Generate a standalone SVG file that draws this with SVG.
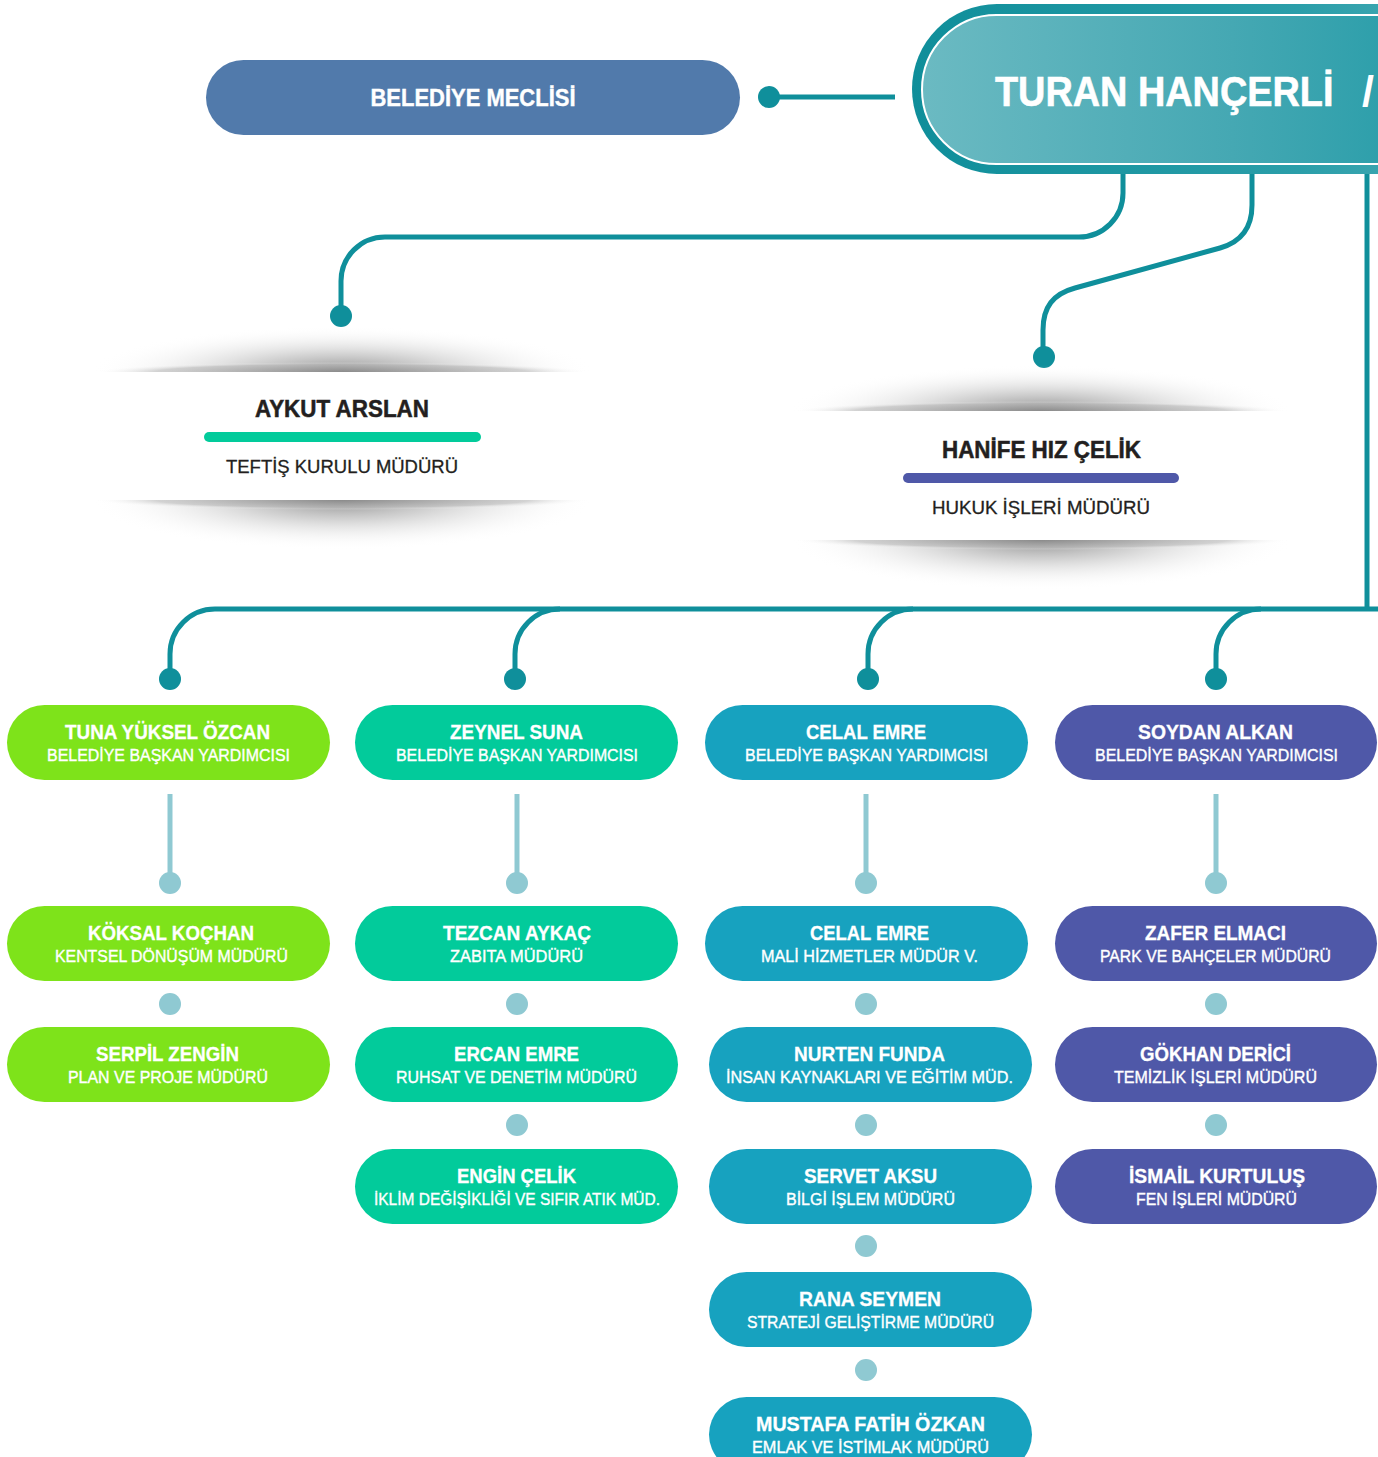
<svg xmlns="http://www.w3.org/2000/svg" width="1378" height="1457" viewBox="0 0 1378 1457">
<defs>
<linearGradient id="gOuter" x1="0" y1="0" x2="1" y2="0">
<stop offset="0" stop-color="#0f8e9a"/><stop offset="0.55" stop-color="#2a9ea9"/><stop offset="1" stop-color="#5fb6bf"/>
</linearGradient>
<linearGradient id="gInner" x1="0" y1="0" x2="1" y2="0">
<stop offset="0" stop-color="#6bbac2"/><stop offset="0.45" stop-color="#45a8b3"/><stop offset="0.8" stop-color="#209aa6"/><stop offset="1" stop-color="#1c97a3"/>
</linearGradient>
<radialGradient id="shBroad" cx="50%" cy="50%" r="50%">
<stop offset="0" stop-color="#7a7a7a" stop-opacity="0.85"/>
<stop offset="0.4" stop-color="#a8a8a8" stop-opacity="0.5"/>
<stop offset="1" stop-color="#ffffff" stop-opacity="0"/>
</radialGradient>
<radialGradient id="shThin" cx="50%" cy="50%" r="50%">
<stop offset="0" stop-color="#8a8a8a" stop-opacity="0.8"/>
<stop offset="0.75" stop-color="#b5b5b5" stop-opacity="0.55"/>
<stop offset="1" stop-color="#ffffff" stop-opacity="0"/>
</radialGradient>
<style>
.pill{stroke:none}
.green{fill:#7ee31a}
.mint{fill:#02cb9b}
.blue{fill:#17a2bf}
.purple{fill:#4f58a8}
.nm{font-family:"Liberation Sans",Arial,sans-serif;font-weight:700;font-size:20px;fill:#ffffff;stroke:#ffffff;stroke-width:0.3;text-anchor:middle}
.sb{font-family:"Liberation Sans",Arial,sans-serif;font-weight:400;font-size:16px;fill:#ffffff;stroke:#ffffff;stroke-width:0.35;text-anchor:middle}
.conn{fill:none;stroke:#0f8f9b;stroke-width:5;stroke-linecap:butt}
.dot{fill:#0f8f9b}
.lconn{fill:none;stroke:#8fc9d2;stroke-width:5}
.ldot{fill:#8fc9d2}
.cn{font-family:"Liberation Sans",Arial,sans-serif;font-weight:700;font-size:23px;fill:#231f20;stroke:#231f20;stroke-width:0.5;text-anchor:middle}
.ct{font-family:"Liberation Sans",Arial,sans-serif;font-weight:400;font-size:18.5px;fill:#231f20;stroke:#231f20;stroke-width:0.3;text-anchor:middle}
</style>
</defs>
<rect x="0" y="0" width="1378" height="1457" fill="#ffffff"/>

<g id="connectors">
<line class="conn" x1="769" y1="97" x2="895" y2="97"/>
<circle class="dot" cx="769" cy="97" r="11"/>
<path class="conn" d="M1123,172 V193 A44,44 0 0 1 1079,237 H385 A44,44 0 0 0 341,281 V316"/>
<circle class="dot" cx="341" cy="316" r="11"/>
<path class="conn" d="M1252,172 V205 C1252,228 1241,242 1220,248 L1075,288 C1053,294 1043,307 1043,330 V357"/>
<circle class="dot" cx="1044" cy="357" r="11"/>
<path class="conn" d="M1367,172 V609"/>
<path class="conn" d="M1378,609 H215 A45,45 0 0 0 170,654 V679"/>
<path class="conn" d="M560,609 A45,45 0 0 0 515,654 V679"/>
<path class="conn" d="M913,609 A45,45 0 0 0 868,654 V679"/>
<path class="conn" d="M1261,609 A45,45 0 0 0 1216,654 V679"/>
<circle class="dot" cx="170" cy="679" r="11"/>
<circle class="dot" cx="515" cy="679" r="11"/>
<circle class="dot" cx="868" cy="679" r="11"/>
<circle class="dot" cx="1216" cy="679" r="11"/>
<line class="lconn" x1="170" y1="794" x2="170" y2="880"/>
<line class="lconn" x1="517" y1="794" x2="517" y2="880"/>
<line class="lconn" x1="866" y1="794" x2="866" y2="880"/>
<line class="lconn" x1="1216" y1="794" x2="1216" y2="880"/>
<circle class="ldot" cx="170" cy="883" r="11"/>
<circle class="ldot" cx="517" cy="883" r="11"/>
<circle class="ldot" cx="866" cy="883" r="11"/>
<circle class="ldot" cx="1216" cy="883" r="11"/>
<circle class="ldot" cx="170" cy="1004" r="11"/>
<circle class="ldot" cx="517" cy="1004" r="11"/>
<circle class="ldot" cx="866" cy="1004" r="11"/>
<circle class="ldot" cx="1216" cy="1004" r="11"/>
<circle class="ldot" cx="517" cy="1125" r="11"/>
<circle class="ldot" cx="866" cy="1125" r="11"/>
<circle class="ldot" cx="1216" cy="1125" r="11"/>
<circle class="ldot" cx="866" cy="1246" r="11"/>
<circle class="ldot" cx="866" cy="1370" r="11"/>
</g>

<g id="baskan">
<rect x="912" y="4" width="700" height="170" rx="85" fill="url(#gOuter)"/>
<rect x="922" y="15" width="690" height="149" rx="74.5" fill="url(#gInner)" stroke="#ffffff" stroke-width="2"/>
<text x="1130.7" y="106" transform="scale(0.88,1)" font-family="'Liberation Sans',Arial,sans-serif" font-weight="700" font-size="43" fill="#ffffff" stroke="#ffffff" stroke-width="0.6">TURAN HANÇERLİ</text>
<text x="1362" y="106" font-family="'Liberation Sans',Arial,sans-serif" font-weight="700" font-size="43" fill="#ffffff">/</text>
</g>

<g id="belediye-meclisi">
<rect x="206" y="60" width="534" height="75" rx="37.5" fill="#517aab"/>
<text x="473" y="106" font-family="'Liberation Sans',Arial,sans-serif" font-weight="700" font-size="23" fill="#ffffff" stroke="#ffffff" stroke-width="0.4" text-anchor="middle" textLength="205" lengthAdjust="spacingAndGlyphs">BELEDİYE MECLİSİ</text>
</g>

<g id="aykut-arslan">
<ellipse cx="342" cy="372" rx="252" ry="46" fill="url(#shBroad)"/>
<ellipse cx="342" cy="372" rx="248" ry="10" fill="url(#shThin)"/>
<ellipse cx="342" cy="500" rx="252" ry="50" fill="url(#shBroad)"/>
<ellipse cx="342" cy="500" rx="248" ry="10" fill="url(#shThin)"/>
<rect x="88" y="372" width="508" height="128" fill="#ffffff"/>
<text class="cn" x="342" y="417" textLength="174" lengthAdjust="spacingAndGlyphs">AYKUT ARSLAN</text>
<rect x="204" y="432" width="277" height="10" rx="5" fill="#02cb9b"/>
<text class="ct" x="342" y="473" textLength="232" lengthAdjust="spacingAndGlyphs">TEFTİŞ KURULU MÜDÜRÜ</text>
</g>

<g id="hanife-hiz-celik">
<ellipse cx="1041" cy="411" rx="252" ry="46" fill="url(#shBroad)"/>
<ellipse cx="1041" cy="411" rx="248" ry="10" fill="url(#shThin)"/>
<ellipse cx="1041" cy="540" rx="252" ry="50" fill="url(#shBroad)"/>
<ellipse cx="1041" cy="540" rx="248" ry="10" fill="url(#shThin)"/>
<rect x="787" y="411" width="508" height="129" fill="#ffffff"/>
<text class="cn" x="1041.5" y="458" textLength="199" lengthAdjust="spacingAndGlyphs">HANİFE HIZ ÇELİK</text>
<rect x="903" y="473" width="276" height="10" rx="5" fill="#4f58a8"/>
<text class="ct" x="1041" y="514" textLength="218" lengthAdjust="spacingAndGlyphs">HUKUK İŞLERİ MÜDÜRÜ</text>
</g>

<!-- Column 1 -->
<g id="tuna-yuksel-ozcan">
<rect class="pill green" x="7" y="705" width="323" height="75" rx="37.5"/>
<text class="nm" x="167.5" y="739" textLength="205" lengthAdjust="spacingAndGlyphs">TUNA YÜKSEL ÖZCAN</text>
<text class="sb" x="168.5" y="761" textLength="243" lengthAdjust="spacingAndGlyphs">BELEDİYE BAŞKAN YARDIMCISI</text>
</g>
<g id="koksal-kochan">
<rect class="pill green" x="7" y="906" width="323" height="75" rx="37.5"/>
<text class="nm" x="171" y="940" textLength="166" lengthAdjust="spacingAndGlyphs">KÖKSAL KOÇHAN</text>
<text class="sb" x="171.5" y="962" textLength="233" lengthAdjust="spacingAndGlyphs">KENTSEL DÖNÜŞÜM MÜDÜRÜ</text>
</g>
<g id="serpil-zengin">
<rect class="pill green" x="7" y="1027" width="323" height="75" rx="37.5"/>
<text class="nm" x="167.5" y="1061" textLength="143" lengthAdjust="spacingAndGlyphs">SERPİL ZENGİN</text>
<text class="sb" x="168" y="1083" textLength="200" lengthAdjust="spacingAndGlyphs">PLAN VE PROJE MÜDÜRÜ</text>
</g>

<!-- Column 2 -->
<g id="zeynel-suna">
<rect class="pill mint" x="355" y="705" width="323" height="75" rx="37.5"/>
<text class="nm" x="516.5" y="739" textLength="133" lengthAdjust="spacingAndGlyphs">ZEYNEL SUNA</text>
<text class="sb" x="517" y="761" textLength="242" lengthAdjust="spacingAndGlyphs">BELEDİYE BAŞKAN YARDIMCISI</text>
</g>
<g id="tezcan-aykac">
<rect class="pill mint" x="355" y="906" width="323" height="75" rx="37.5"/>
<text class="nm" x="517" y="940" textLength="148" lengthAdjust="spacingAndGlyphs">TEZCAN AYKAÇ</text>
<text class="sb" x="516.5" y="962" textLength="133" lengthAdjust="spacingAndGlyphs">ZABITA MÜDÜRÜ</text>
</g>
<g id="ercan-emre">
<rect class="pill mint" x="355" y="1027" width="323" height="75" rx="37.5"/>
<text class="nm" x="516.5" y="1061" textLength="125" lengthAdjust="spacingAndGlyphs">ERCAN EMRE</text>
<text class="sb" x="516.5" y="1083" textLength="241" lengthAdjust="spacingAndGlyphs">RUHSAT VE DENETİM MÜDÜRÜ</text>
</g>
<g id="engin-celik">
<rect class="pill mint" x="355" y="1149" width="323" height="75" rx="37.5"/>
<text class="nm" x="516.5" y="1183" textLength="119" lengthAdjust="spacingAndGlyphs">ENGİN ÇELİK</text>
<text class="sb" x="517" y="1205" textLength="286" lengthAdjust="spacingAndGlyphs">İKLİM DEĞİŞİKLİĞİ VE SIFIR ATIK MÜD.</text>
</g>

<!-- Column 3 -->
<g id="celal-emre-bby">
<rect class="pill blue" x="705" y="705" width="323" height="75" rx="37.5"/>
<text class="nm" x="866" y="739" textLength="120" lengthAdjust="spacingAndGlyphs">CELAL EMRE</text>
<text class="sb" x="866.5" y="761" textLength="243" lengthAdjust="spacingAndGlyphs">BELEDİYE BAŞKAN YARDIMCISI</text>
</g>
<g id="celal-emre-mali">
<rect class="pill blue" x="705" y="906" width="323" height="75" rx="37.5"/>
<text class="nm" x="869.5" y="940" textLength="119" lengthAdjust="spacingAndGlyphs">CELAL EMRE</text>
<text class="sb" x="869.5" y="962" textLength="217" lengthAdjust="spacingAndGlyphs">MALİ HİZMETLER MÜDÜR V.</text>
</g>
<g id="nurten-funda">
<rect class="pill blue" x="709" y="1027" width="323" height="75" rx="37.5"/>
<text class="nm" x="869.5" y="1061" textLength="151" lengthAdjust="spacingAndGlyphs">NURTEN FUNDA</text>
<text class="sb" x="869.5" y="1083" textLength="287" lengthAdjust="spacingAndGlyphs">İNSAN KAYNAKLARI VE EĞİTİM MÜD.</text>
</g>
<g id="servet-aksu">
<rect class="pill blue" x="709" y="1149" width="323" height="75" rx="37.5"/>
<text class="nm" x="870.5" y="1183" textLength="133" lengthAdjust="spacingAndGlyphs">SERVET AKSU</text>
<text class="sb" x="870.5" y="1205" textLength="169" lengthAdjust="spacingAndGlyphs">BİLGİ İŞLEM MÜDÜRÜ</text>
</g>
<g id="rana-seymen">
<rect class="pill blue" x="709" y="1272" width="323" height="75" rx="37.5"/>
<text class="nm" x="870" y="1306" textLength="142" lengthAdjust="spacingAndGlyphs">RANA SEYMEN</text>
<text class="sb" x="870.5" y="1328" textLength="247" lengthAdjust="spacingAndGlyphs">STRATEJİ GELİŞTİRME MÜDÜRÜ</text>
</g>
<g id="mustafa-fatih-ozkan">
<rect class="pill blue" x="709" y="1397" width="323" height="75" rx="37.5"/>
<text class="nm" x="870.5" y="1431" textLength="229" lengthAdjust="spacingAndGlyphs">MUSTAFA FATİH ÖZKAN</text>
<text class="sb" x="870.5" y="1453" textLength="237" lengthAdjust="spacingAndGlyphs">EMLAK VE İSTİMLAK MÜDÜRÜ</text>
</g>

<!-- Column 4 -->
<g id="soydan-alkan">
<rect class="pill purple" x="1055" y="705" width="322" height="75" rx="37.5"/>
<text class="nm" x="1215.5" y="739" textLength="155" lengthAdjust="spacingAndGlyphs">SOYDAN ALKAN</text>
<text class="sb" x="1216.5" y="761" textLength="243" lengthAdjust="spacingAndGlyphs">BELEDİYE BAŞKAN YARDIMCISI</text>
</g>
<g id="zafer-elmaci">
<rect class="pill purple" x="1055" y="906" width="322" height="75" rx="37.5"/>
<text class="nm" x="1215.5" y="940" textLength="141" lengthAdjust="spacingAndGlyphs">ZAFER ELMACI</text>
<text class="sb" x="1215.5" y="962" textLength="231" lengthAdjust="spacingAndGlyphs">PARK VE BAHÇELER MÜDÜRÜ</text>
</g>
<g id="gokhan-derici">
<rect class="pill purple" x="1055" y="1027" width="322" height="75" rx="37.5"/>
<text class="nm" x="1215.5" y="1061" textLength="151" lengthAdjust="spacingAndGlyphs">GÖKHAN DERİCİ</text>
<text class="sb" x="1215.5" y="1083" textLength="203" lengthAdjust="spacingAndGlyphs">TEMİZLİK İŞLERİ MÜDÜRÜ</text>
</g>
<g id="ismail-kurtulus">
<rect class="pill purple" x="1055" y="1149" width="322" height="75" rx="37.5"/>
<text class="nm" x="1217" y="1183" textLength="176" lengthAdjust="spacingAndGlyphs">İSMAİL KURTULUŞ</text>
<text class="sb" x="1216.5" y="1205" textLength="161" lengthAdjust="spacingAndGlyphs">FEN İŞLERİ MÜDÜRÜ</text>
</g>
</svg>
